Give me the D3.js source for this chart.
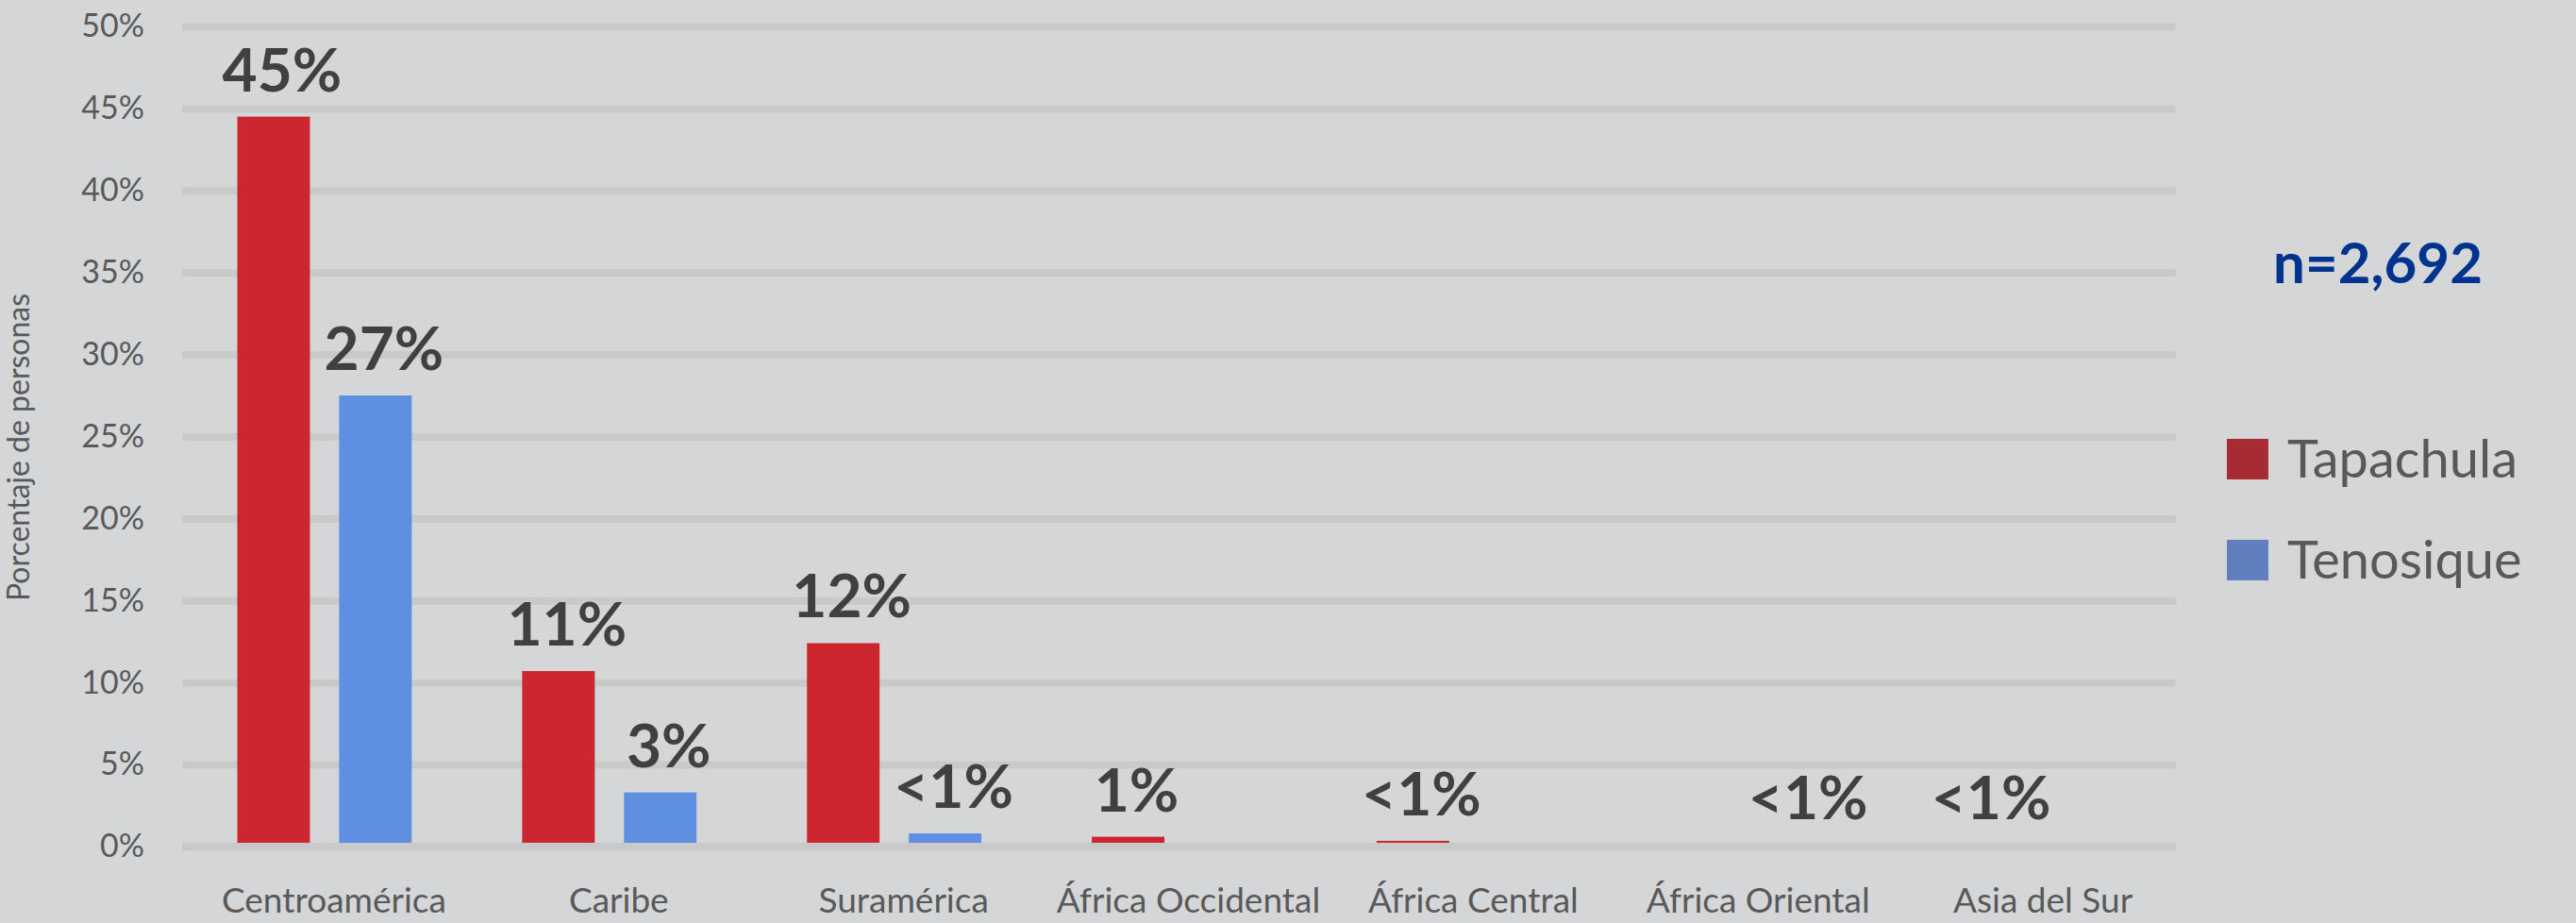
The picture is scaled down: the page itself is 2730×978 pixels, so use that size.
<!DOCTYPE html>
<html>
<head>
<meta charset="utf-8">
<script src="https://cdn.jsdelivr.net/npm/d3@7"></script>
<style>
  body { margin: 0; background: #d5d6d8; }
  svg { display: block; font-family: Lato, "Open Sans", sans-serif; }
</style>
</head>
<body>
<div id="chart"></div>
<script>
// categories and values (percent of people)
var regions = ['Centroamérica', 'Caribe', 'Suramérica', 'África Occidental', 'África Central', 'África Oriental', 'Asia del Sur'];
var seriesNames = ['Tapachula', 'Tenosique'];
var tapachula = [44.5, 10.7, 12.4, 0.6, 0.35, 0, 0.1];
var tenosique = [27.5, 3.3, 0.8, 0, 0, 0.1, 0];
var tapachulaLabels = ['45%', '11%', '12%', '1%', '<1%', '', '<1%'];
var tenosiqueLabels = ['27%', '3%', '<1%', '', '', '<1%', ''];
var yTicks = [0, 5, 10, 15, 20, 25, 30, 35, 40, 45, 50];
var sampleNote = 'n=2,692';

var W = 2730, H = 978;
var barColors = { Tapachula: '#ce2630', Tenosique: '#5e8fe0' };
var legendColors = { Tapachula: '#a62b33', Tenosique: '#617fbf' };

var svg = d3.select('#chart').append('svg')
    .attr('width', W).attr('height', H);

svg.append('rect').attr('width', W).attr('height', H).attr('fill', '#d5d6d8');

var x0 = d3.scaleBand().domain(regions).range([193, 2306]);
var x1 = d3.scaleBand().domain(seriesNames)
    .range([58.5, x0.bandwidth() - 58.5]).paddingInner(0.287);
var y = d3.scaleLinear().domain([0, 50]).range([897, 28]);

// gridlines
var grid = svg.append('g').attr('transform', 'translate(193,0)')
    .call(d3.axisLeft(y).tickValues(yTicks).tickSize(-(2306 - 193)).tickFormat(''));
grid.select('.domain').remove();
grid.selectAll('.tick line').attr('stroke', '#c9c9ca').attr('stroke-width', 8);

// y tick labels
var yAxis = svg.append('g').attr('transform', 'translate(153,0)')
    .call(d3.axisLeft(y).tickValues(yTicks).tickSize(0).tickPadding(0)
        .tickFormat(function(d) { return d + '%'; }));
yAxis.select('.domain').remove();
yAxis.selectAll('text')
    .attr('fill', '#595959').attr('font-size', 34).attr('font-family', 'Lato, sans-serif');

svg.append('text')
    .attr('transform', 'translate(31,474) rotate(-90)')
    .attr('text-anchor', 'middle')
    .attr('fill', '#595959').attr('font-size', 32)
    .text('Porcentaje de personas');

// bars
var rows = regions.map(function(r, i) {
    return { region: r, values: [
        { key: 'Tapachula', value: tapachula[i], label: tapachulaLabels[i] },
        { key: 'Tenosique', value: tenosique[i], label: tenosiqueLabels[i] }
    ]};
});

var groups = svg.append('g').selectAll('g')
    .data(rows).enter().append('g')
    .attr('transform', function(d) { return 'translate(' + x0(d.region) + ',0)'; });

groups.selectAll('rect')
    .data(function(d) { return d.values; }).enter().append('rect')
    .attr('x', function(d) { return x1(d.key); })
    .attr('y', function(d) { return y(d.value); })
    .attr('width', x1.bandwidth())
    .attr('height', function(d) { return y(0) - y(d.value); })
    .attr('fill', function(d) { return barColors[d.key]; });

groups.selectAll('text')
    .data(function(d) { return d.values.filter(function(v) { return v.label; }); })
    .enter().append('text')
    .attr('x', function(d) { return x1(d.key) + x1.bandwidth() / 2 + 9; })
    .attr('y', function(d) { return y(d.value) - 27; })
    .attr('text-anchor', 'middle')
    .attr('fill', '#404040').attr('font-size', 64).attr('font-weight', 'bold')
    .text(function(d) { return d.label; });

// zero axis line on top of bars
svg.append('line')
    .attr('x1', 193).attr('x2', 2306)
    .attr('y1', y(0)).attr('y2', y(0))
    .attr('stroke', '#c9c9ca').attr('stroke-width', 8);

// category labels
var xAxis = svg.append('g').attr('transform', 'translate(10,' + 967 + ')')
    .call(d3.axisBottom(x0).tickSize(0).tickPadding(0));
xAxis.select('.domain').remove();
xAxis.selectAll('text')
    .attr('dy', 0)
    .attr('fill', '#595959').attr('font-size', 37).attr('font-family', 'Lato, sans-serif');

// sample size
svg.append('text')
    .attr('x', 2520).attr('y', 300)
    .attr('text-anchor', 'middle')
    .attr('fill', '#00338d').attr('font-size', 60).attr('font-weight', 'bold')
    .text(sampleNote);

// legend
var legend = svg.append('g').selectAll('g')
    .data(seriesNames).enter().append('g')
    .attr('transform', function(d, i) { return 'translate(2360,' + (465 + i * 107) + ')'; });

legend.append('rect')
    .attr('width', 44).attr('height', 43)
    .attr('fill', function(d) { return legendColors[d]; });

legend.append('text')
    .attr('x', 64).attr('y', 41)
    .attr('fill', '#595959').attr('font-size', 56)
    .text(function(d) { return d; });
</script>
</body>
</html>
